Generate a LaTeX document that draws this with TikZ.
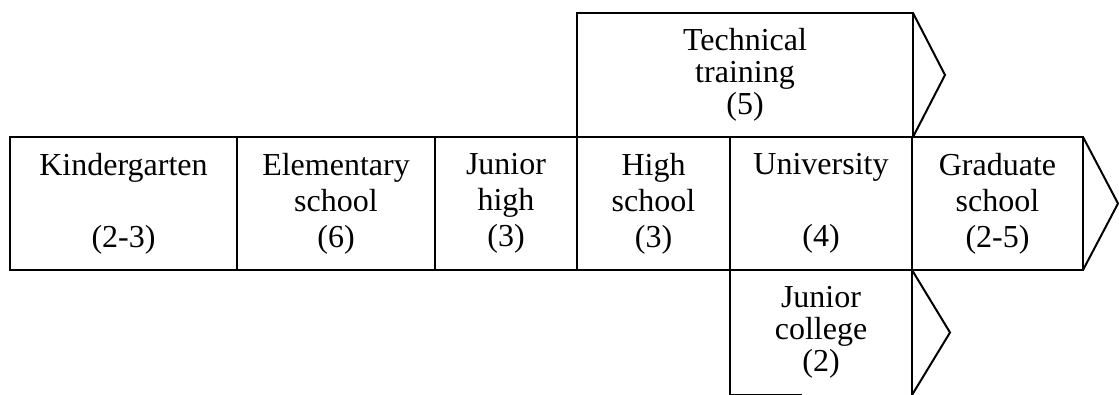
\documentclass[tikz,border=0pt]{standalone}
\usepackage{fontspec}
\setmainfont{Liberation Serif}
\usepackage{tikz}
\usetikzlibrary{positioning, calc}
\tikzset{
    base/.style={
        font=\fontsize{32}{36}\selectfont,
        align=center,
        outer sep=0pt,
        inner sep=0pt
    },
    stage/.style={
        base,
        rectangle,
        draw,
        line width=2pt,
        minimum height=133pt
    },
    branch/.style={
        base,
        rectangle,
        font=\fontsize{32}{32}\selectfont
    },
    chevron/.style={
        line width=2pt,
        line join=miter
    }
}
\begin{document}
\begin{tikzpicture}[x=1pt, y=-1pt]
  \useasboundingbox (0,0) rectangle (1119,395);

  % Main sequence
  \node[stage, minimum width=227pt, anchor=north west] (kinder) at (10,137) {Kindergarten\\ \\(2-3)};
  \node[stage, minimum width=198pt, right=0pt of kinder] (elem) {Elementary\\school\\(6)};
  \node[stage, minimum width=142pt, right=0pt of elem] (jhigh) {Junior\\high\\(3)};
  \node[stage, minimum width=153pt, right=0pt of jhigh] (high) {High\\school\\(3)};
  \node[stage, minimum width=182pt, right=0pt of high] (univ) {University\\ \\(4)};
  \node[stage, minimum width=171pt, right=0pt of univ] (grad) {Graduate\\school\\(2-5)};

  % Side branches
  \node[branch, draw, line width=2pt, minimum width=336pt, minimum height=124pt, anchor=south west] (tech) at (high.north west) {Technical\\training\\(5)};
  \node[branch, minimum width=182pt, minimum height=125pt, anchor=north west] (jcoll) at (univ.south west) {Junior\\college\\(2)};
  \draw[chevron] (jcoll.north west) -- (jcoll.south west) -- ++(72,0);
  \draw[chevron] (jcoll.north east) -- (jcoll.south east);

  % Arrow heads
  \draw[chevron] (grad.north east) -- ($(grad.east)+(35,0)$) -- (grad.south east);
  \draw[chevron] (tech.north east) -- ($(tech.east)+(32,0)$) -- (tech.south east);
  \draw[chevron] (jcoll.north east) -- ($(jcoll.east)+(38,0)$) -- (jcoll.south east);
\end{tikzpicture}
\end{document}
